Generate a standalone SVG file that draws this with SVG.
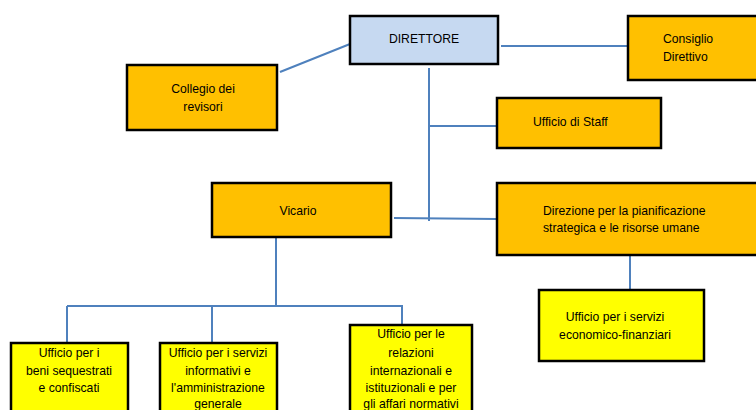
<svg xmlns="http://www.w3.org/2000/svg" width="756" height="410" viewBox="0 0 756 410">
<style>
.box{stroke:#000;stroke-width:2.5}
.o{fill:#FFC000}
.b{fill:#C6D9F1}
.y{fill:#FFFF00}
.t{font-family:"Liberation Sans",Arial,sans-serif;font-size:12.2px;fill:#000}
.c{text-anchor:middle}
.ln{stroke:#4F81BD;stroke-width:2;fill:none}
</style>
<rect x="0" y="0" width="756" height="410" fill="#fff"/>
<g id="connectors">
<line class="ln" x1="280" y1="72" x2="350" y2="44"/>
<line class="ln" x1="501" y1="46" x2="628" y2="46"/>
<line class="ln" x1="429" y1="68" x2="429" y2="221"/>
<line class="ln" x1="429" y1="126" x2="497" y2="126"/>
<line class="ln" x1="394" y1="218" x2="497" y2="219"/>
<line class="ln" x1="630" y1="255" x2="630" y2="290"/>
<line class="ln" x1="276" y1="237" x2="276" y2="306"/>
<line class="ln" x1="67" y1="306" x2="403" y2="306"/>
<line class="ln" x1="67" y1="306" x2="67" y2="343"/>
<line class="ln" x1="212" y1="306" x2="212" y2="343"/>
<line class="ln" x1="402" y1="306" x2="402" y2="325"/>
</g>
<g id="direttore">
<rect class="box b" x="350" y="16" width="148" height="48"/>
<text class="t c" x="424" y="43">DIRETTORE</text>
</g>
<g id="collegio">
<rect class="box o" x="127" y="65" width="150" height="65"/>
<text class="t c" x="203" y="93">Collegio dei</text>
<text class="t c" x="203" y="111">revisori</text>
</g>
<g id="consiglio">
<rect class="box o" x="628" y="16" width="130" height="64"/>
<text class="t" x="663" y="43">Consiglio</text>
<text class="t" x="663" y="61">Direttivo</text>
</g>
<g id="staff">
<rect class="box o" x="497" y="98" width="164" height="50"/>
<text class="t" x="533" y="126">Ufficio di Staff</text>
</g>
<g id="direzione">
<rect class="box o" x="497" y="183" width="261" height="72"/>
<text class="t" x="543" y="215">Direzione per la pianificazione</text>
<text class="t" x="543" y="232">strategica e le risorse umane</text>
</g>
<g id="economico">
<rect class="box y" x="539" y="290" width="165" height="71"/>
<text class="t c" x="615" y="321">Ufficio per i servizi</text>
<text class="t c" x="615" y="339">economico-finanziari</text>
</g>
<g id="vicario">
<rect class="box o" x="212" y="183" width="179" height="54"/>
<text class="t c" x="298" y="215">Vicario</text>
</g>
<g id="beni">
<rect class="box y" x="11" y="343" width="117" height="80"/>
<text class="t c" x="69" y="357">Ufficio per i</text>
<text class="t c" x="69" y="375">beni sequestrati</text>
<text class="t c" x="69" y="392">e confiscati</text>
</g>
<g id="informativi">
<rect class="box y" x="160" y="343" width="117" height="80"/>
<text class="t c" x="218" y="357">Ufficio per i servizi</text>
<text class="t c" x="218" y="375">informativi e</text>
<text class="t c" x="218" y="392">l'amministrazione</text>
<text class="t c" x="218" y="408">generale</text>
</g>
<g id="relazioni">
<rect class="box y" x="350" y="325" width="122" height="100"/>
<text class="t c" x="411" y="338">Ufficio per le</text>
<text class="t c" x="411" y="357">relazioni</text>
<text class="t c" x="411" y="375">internazionali e</text>
<text class="t c" x="411" y="392">istituzionali e per</text>
<text class="t c" x="411" y="408">gli affari normativi</text>
</g>
</svg>
